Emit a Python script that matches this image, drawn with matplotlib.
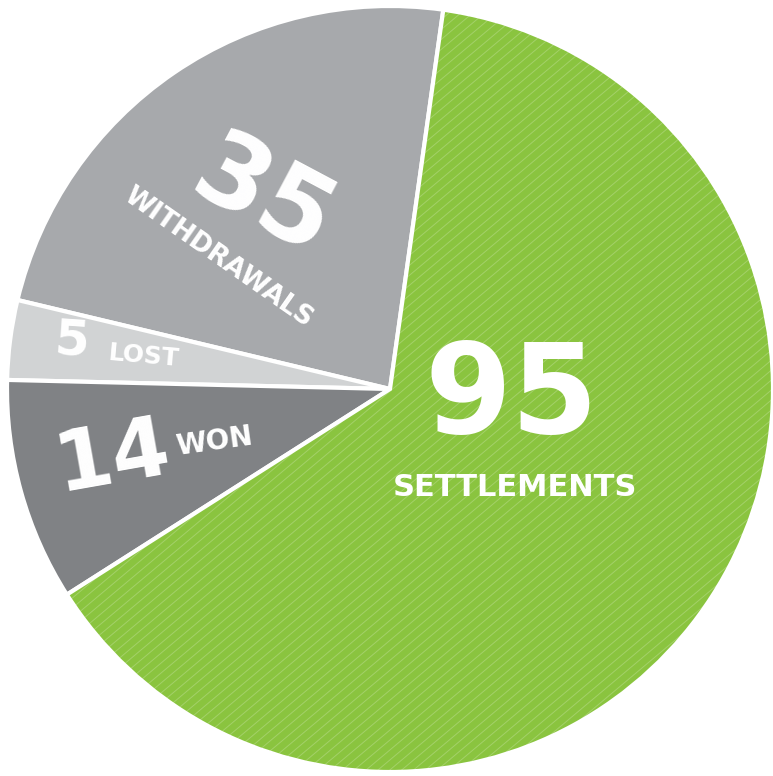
import numpy as np
import matplotlib.pyplot as plt
from matplotlib.collections import LineCollection

# Datos
labels = ["WITHDRAWALS", "LOST", "WON", "SETTLEMENTS"]
values = [35, 5, 14, 95]
colors = ["#A7A9AC", "#D1D3D4", "#808285", "#8AC43F"]

W, H = 773, 776
cx, cy, R = 390, 389, 383  # centro y radio en pixeles


def px(x, y):
    # pixel de la imagen -> coordenadas del eje
    return (x - cx) / R, (cy - y) / R


fig = plt.figure(figsize=(W / 100, H / 100), dpi=100)
ax = fig.add_axes([0, 0, 1, 1])

wedges, _ = ax.pie(values, colors=colors, startangle=82, counterclock=True,
                   radius=1.0,
                   wedgeprops=dict(edgecolor="white", linewidth=3))

# Textura de lineas diagonales sobre la parte verde
green = wedges[3]
ang = np.deg2rad(40)
segs = []
for c in np.arange(-3, 3, 0.031):
    x0, x1 = -1.2, 1.2
    segs.append([(x0 + c, x0 * np.tan(ang)), (x1 + c, x1 * np.tan(ang))])
lc = LineCollection(segs, colors=[(1, 1, 1, 0.22)], linewidths=0.7)
ax.add_collection(lc)
lc.set_clip_path(green)

ax.set_xlim(-cx / R, (W - cx) / R)
ax.set_ylim(-(H - cy) / R, cy / R)
ax.set_aspect("auto")
ax.axis("off")

font = "DejaVu Sans"
def label(x, y, s, size, rot=0):
    ax.text(*px(x, y), s, color="white", fontsize=size, fontweight="bold",
            family=font, rotation=rot, ha="center", va="center",
            rotation_mode="anchor")

label(262, 200, str(values[0]), 74, -28)
label(218, 258, labels[0], 19, -35)
label(72, 341, str(values[1]), 36, -4)
label(144, 356, labels[1], 18, -5)
label(113, 458, str(values[2]), 60, 10)
label(214, 442, labels[2], 20, 8)
label(512, 398, str(values[3]), 90, 0)
label(515, 487, labels[3], 22, 0)

plt.savefig("out.png", dpi=100)
